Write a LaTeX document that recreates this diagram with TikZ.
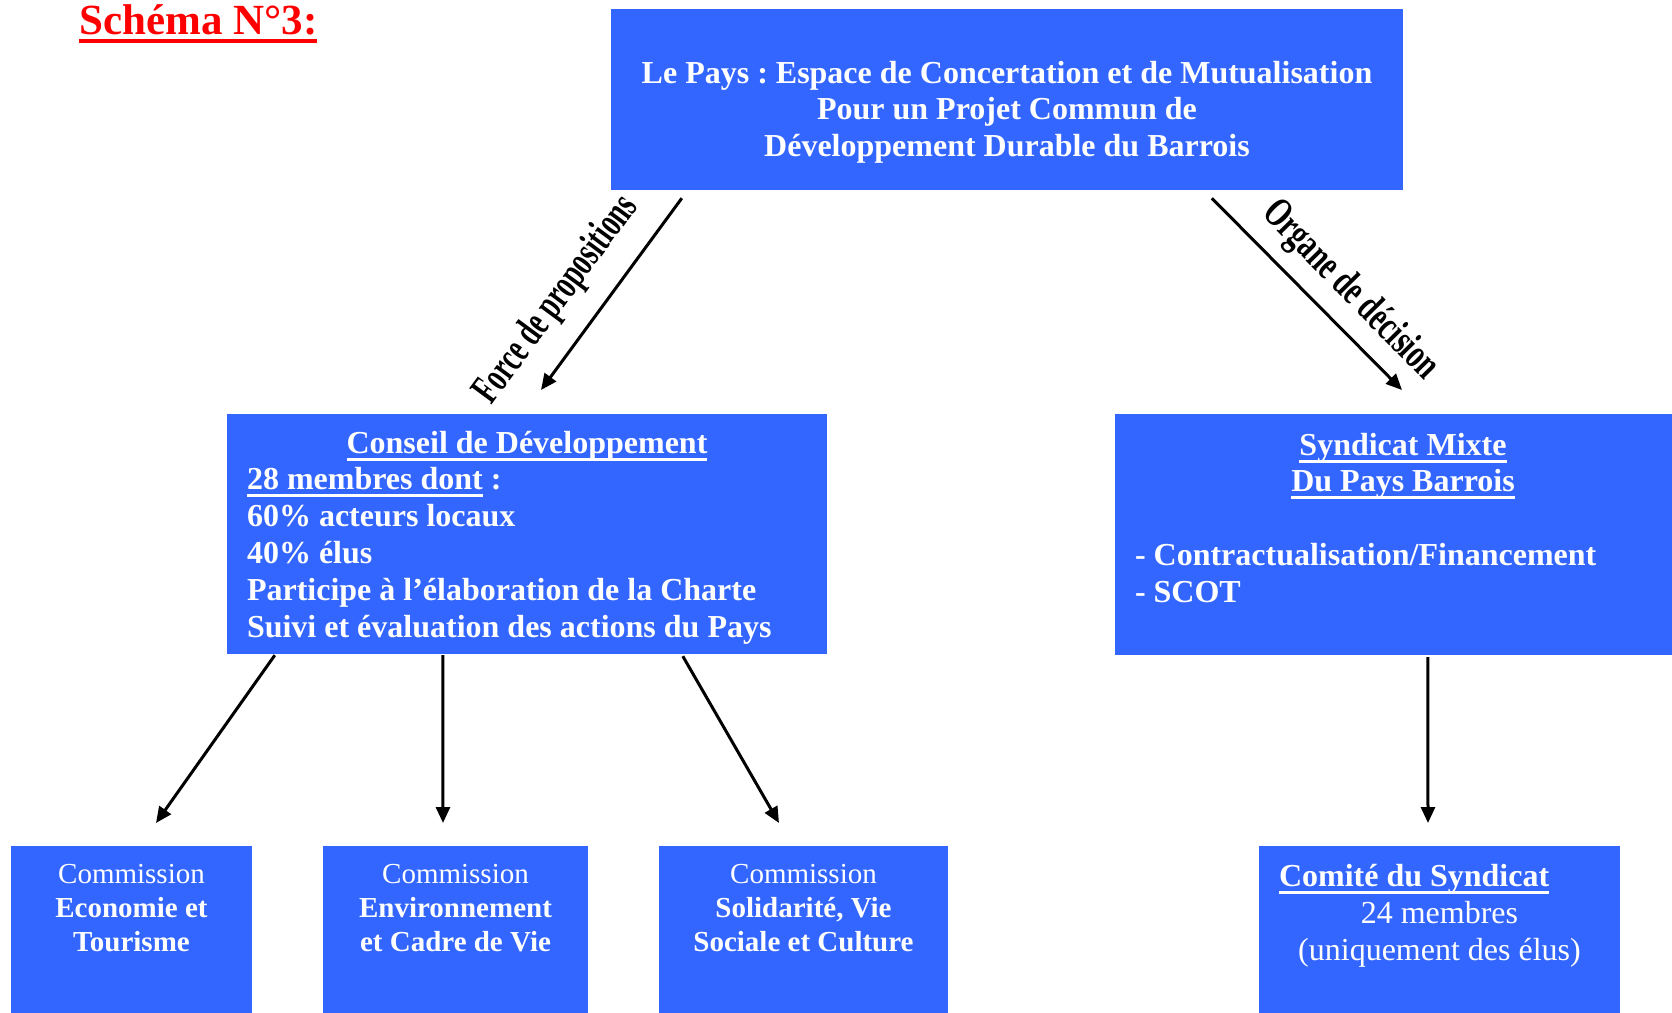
\documentclass[tikz,border=0pt]{standalone}
\usepackage{fontspec}
\setmainfont{Liberation Serif}
\usepackage{graphicx}
\usetikzlibrary{arrows.meta}
\frenchspacing

\definecolor{paysblue}{RGB}{51,102,255}
\definecolor{titlered}{RGB}{255,0,0}

% underlined text with a rule of fixed depth and thickness
\newcommand{\ulined}[1]{\leavevmode\setbox0=\hbox{#1}\rlap{\rule[-7.5pt]{\wd0}{3pt}}\box0}
\newcommand{\ulinedtitle}[1]{\leavevmode\setbox0=\hbox{#1}\rlap{\rule[-9pt]{\wd0}{4.5pt}}\box0}

\begin{document}
\begin{tikzpicture}[
  block/.style = {fill = paysblue, text = white, inner sep = 0pt, anchor = base, font = \fontsize{32}{36.8}\selectfont\bfseries,
    execute at begin node = {\spaceskip = \fontdimen2\font \xspaceskip = \spaceskip}},
  smallblock/.style = {block, align = center, text height = 37pt, text depth = 200pt, font = \fontsize{29}{34}\selectfont},
  arrow/.style = {-{Triangle[length = 16pt, width = 14pt]}, line width = 3pt},
  arrowlabel/.style = {inner sep = 0pt, font = \fontsize{42}{46}\selectfont\bfseries},
  x = 1pt,
  y = -1pt
]
  \useasboundingbox (0, 0) rectangle (1672, 1012);

  \node[anchor = base west, inner sep = 0pt, text = titlered, font = \fontsize{43}{48}\selectfont\bfseries] (title) at (79, 34) {\ulinedtitle{Schéma N°3:}};

  \node[block, align = center, text width = 760pt, minimum width = 792pt, text height = 74.5pt, text depth = 107pt] (pays) at (1007, 83)
    {Le Pays : Espace de Concertation et de Mutualisation\\Pour un Projet Commun de\\Développement Durable du Barrois};

  \node[block, align = left, text width = 560pt, minimum width = 600pt, text height = 39pt, text depth = 201pt] (conseil) at (527, 453)
    {\makebox[560pt]{\ulined{Conseil de Développement}}\\
     \ulined{28 membres dont}\ :\\
     60\% acteurs locaux\\
     40\% élus\\
     Participe à l’élaboration de la Charte\\
     Suivi et évaluation des actions du Pays};

  \node[block, align = left, text width = 560pt, minimum width = 600pt, text height = 41pt, text depth = 200pt] (syndicat) at (1415, 455)
    {\makebox[536pt]{\ulined{Syndicat Mixte}}\\
     \makebox[536pt]{\ulined{Du Pays Barrois}}\\
     \mbox{}\\
     - Contractualisation/Financement\\
     - SCOT};

  \node[smallblock, text width = 221pt, minimum width = 241pt] (eco) at (131.5, 883) {Commission\\\textbf{Economie et}\\\textbf{Tourisme}};
  \node[smallblock, text width = 245pt, minimum width = 265pt] (env) at (455.5, 883) {Commission\\\textbf{Environnement}\\\textbf{et Cadre de Vie}};
  \node[smallblock, text width = 269pt, minimum width = 289pt] (sol) at (803.5, 883) {Commission\\\textbf{Solidarité, Vie}\\\textbf{Sociale et Culture}};

  \node[block, align = center, text width = 321pt, minimum width = 361pt, text height = 40pt, text depth = 200pt, font = \fontsize{32}{37}\selectfont] (comite) at (1439.5, 886)
    {\makebox[321pt][l]{\bfseries\ulined{Comité du Syndicat}}\\24 membres\\(uniquement des élus)};

  % free ends of the arrows
  \coordinate (forceEnd) at (541, 390);
  \coordinate (organeEnd) at (1402, 390);
  \coordinate (ecoEnd) at (156, 823);
  \coordinate (envEnd) at (443, 823);
  \coordinate (solEnd) at (779, 823);
  \coordinate (comiteEnd) at (1428, 823);

  \draw[arrow] ([shift = {(71, 8)}]pays.south west) -- (forceEnd);
  \draw[arrow] ([shift = {(601, 8)}]pays.south west) -- (organeEnd);
  \draw[arrow] ([shift = {(48, 1)}]conseil.south west) -- (ecoEnd);
  \draw[arrow] ([shift = {(216, 1)}]conseil.south west) -- (envEnd);
  \draw[arrow] ([shift = {(456, 2)}]conseil.south west) -- (solEnd);
  \draw[arrow] ([shift = {(313, 2)}]syndicat.south west) -- (comiteEnd);

  \node[arrowlabel, rotate = 53.6] (force) at (557, 300) {\scalebox{0.64}[1]{Force de propositions}};
  \node[arrowlabel, rotate = -45.5] (organe) at (1350, 291) {\scalebox{0.68}[1]{Organe de décision}};
\end{tikzpicture}
\end{document}
